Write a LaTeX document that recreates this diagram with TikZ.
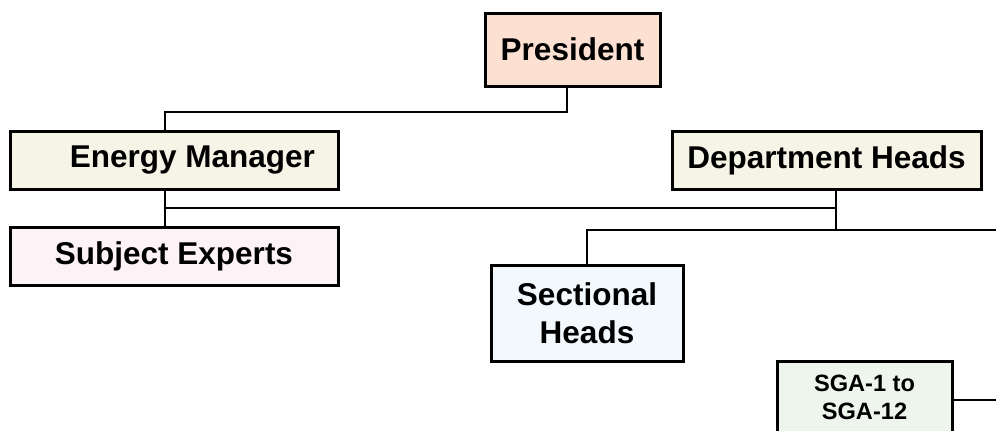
\documentclass[tikz,border=0pt]{standalone}
\usepackage{fontspec}
\setmainfont{Liberation Sans}
\usetikzlibrary{positioning}

\definecolor{presfill}{HTML}{FCE0D2}
\definecolor{mgrfill}{HTML}{F6F4E6}
\definecolor{expfill}{HTML}{FDF2F5}
\definecolor{secfill}{HTML}{F3F8FD}
\definecolor{sgafill}{HTML}{EDF5EC}

\begin{document}
\begin{tikzpicture}[x=1pt, y=-1pt, >=stealth,
                    box/.style={draw=black, line width=3pt, inner sep=0pt, align=center,
                                font=\bfseries\fontsize{31.5}{38}\selectfont},
                    link/.style={draw=black, line width=2.7pt}]

\useasboundingbox (0,0) rectangle (996,431);

% boxes
\node[box, fill=presfill, minimum width=175pt, minimum height=73pt] (pres) at (572.5,49.5) {President};
\node[box, fill=mgrfill, minimum height=58pt, text width=282pt, inner xsep=23pt, align=flush right] (em) at (174,160) {Energy Manager};
\node[box, fill=mgrfill, minimum width=309pt, minimum height=58pt] (dh) at (826.5,160) {Department Heads};
\node[box, fill=expfill, minimum width=328pt, minimum height=58pt] (se) at (174,256) {Subject Experts};
\node[box, fill=secfill, minimum width=192pt, minimum height=96pt] (sh) at (587,313) {Sectional\\Heads};
\node[box, fill=sgafill, minimum width=175pt, minimum height=72pt,
      font=\bfseries\fontsize{23.6}{28}\selectfont] (sga) at (864.5,397) {SGA-1 to\\SGA-12};

% connectors
\coordinate (pbend) at (567,112);
\coordinate (emx) at (165,0);
\coordinate (tee) at (165,208);
\coordinate (dhx) at (836,0);
\coordinate (dhbot) at (836,230);
\coordinate (edge1) at (996,230);
\coordinate (edge2) at (996,400);

\draw[link] (pres.south -| pbend) -- (pbend) -| (em.north -| emx);
\draw[link] (em.south -| emx) -- (se.north -| emx);
\draw[link] (tee) -- (tee -| dhx);
\draw[link] (dh.south -| dhx) -- (dhbot);
\draw[link] (sh.north) |- (edge1);
\draw[link] (sga.east |- edge2) -- (edge2);
\end{tikzpicture}
\end{document}
